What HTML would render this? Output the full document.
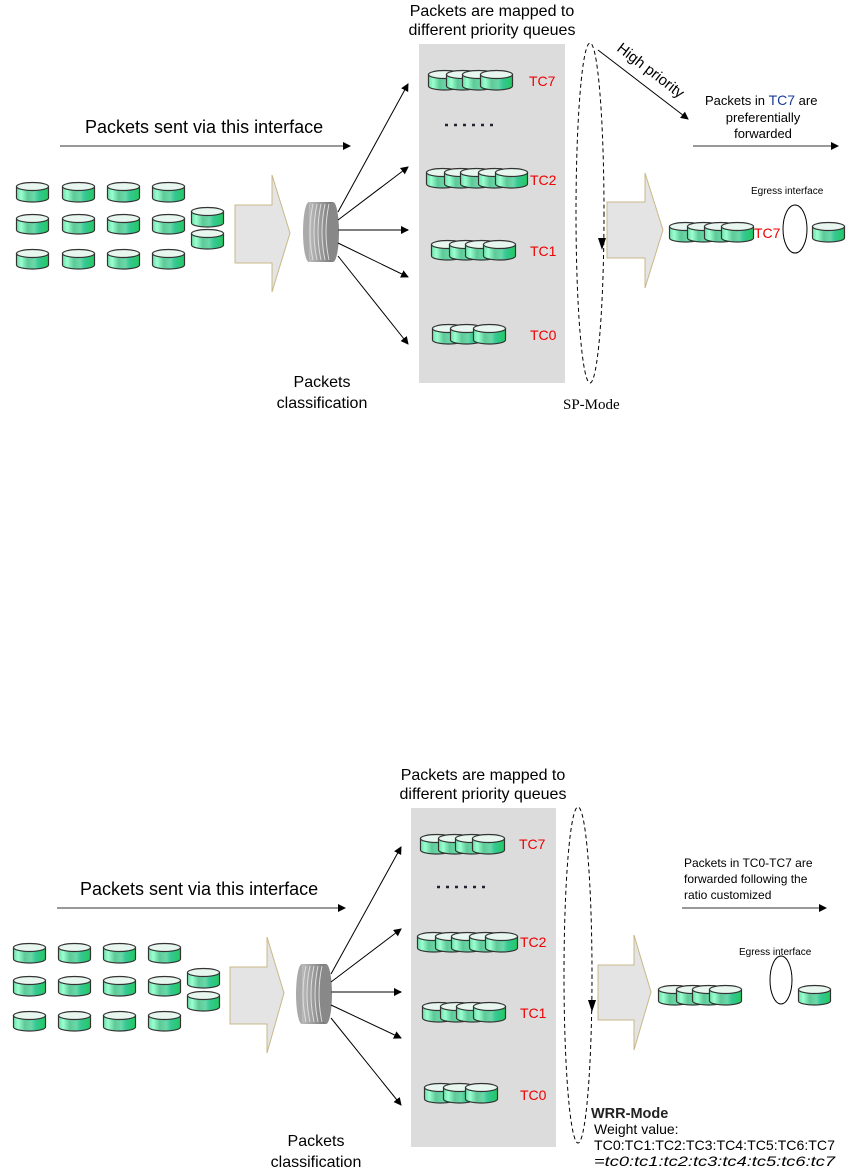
<!DOCTYPE html>
<html><head><meta charset="utf-8"><style>
html,body{margin:0;padding:0;background:#fff;}
svg{display:block;}
text{font-family:"Liberation Sans",sans-serif;}
text.serif{font-family:"Liberation Serif",serif;}
</style></head><body>
<svg width="852" height="1175" viewBox="0 0 852 1175" xmlns="http://www.w3.org/2000/svg">
<defs>
<linearGradient id="cg" x1="0" x2="1" y1="0" y2="0">
<stop offset="0" stop-color="#6fe0a8"/><stop offset="0.15" stop-color="#9affd0"/><stop offset="0.35" stop-color="#5fc998"/><stop offset="0.55" stop-color="#6ad8a8"/><stop offset="0.7" stop-color="#36c893"/><stop offset="1" stop-color="#22c960"/>
</linearGradient>
<linearGradient id="dg" x1="0" x2="1">
<stop offset="0" stop-color="#bbb"/><stop offset="0.5" stop-color="#999"/><stop offset="1" stop-color="#777"/>
</linearGradient>
<g id="cyl">
<path d="M0.5,4.5 L0.5,16 A16,4 0 0 0 32.5,16 L32.5,4.5 Z" fill="url(#cg)" stroke="#333" stroke-width="1.2"/>
<ellipse cx="16.5" cy="4.5" rx="16" ry="4" fill="#e8f6f0" stroke="#333" stroke-width="1.2"/>
</g>
<g id="disk">
<ellipse cx="0" cy="30" rx="6" ry="30" fill="#aaa"/>
<rect x="0" y="0" width="24" height="60" fill="url(#dg)"/>
<ellipse cx="24" cy="30" rx="6" ry="30" fill="#888"/>
<path d="M4,2 Q-2,30 4,58 M8,2 Q2,30 8,58 M12,2 Q6,30 12,58 M16,2 Q10,30 16,58 M20,2 Q14,30 20,58" stroke="#ddd" fill="none" stroke-width="1"/>
</g>
<marker id="ah" markerWidth="8" markerHeight="8" refX="7" refY="4" orient="auto" markerUnits="userSpaceOnUse">
<path d="M0,0 L8,4 L0,8 Z" fill="#000"/>
</marker>
</defs>

<!-- ================= TOP ================= -->
<text x="492" y="16" font-size="16" text-anchor="middle">Packets are mapped to</text>
<text x="492" y="35" font-size="16" text-anchor="middle">different priority queues</text>
<rect x="419" y="44" width="146" height="339" fill="#dcdcdc"/>

<text x="85" y="133" font-size="18">Packets sent via this interface</text>
<line x1="60" y1="146" x2="350" y2="146" stroke="#333" stroke-width="1" marker-end="url(#ah)"/>

<g>
<use href="#cyl" x="16" y="182"/><use href="#cyl" x="62" y="182"/><use href="#cyl" x="107" y="182"/><use href="#cyl" x="152" y="182"/>
<use href="#cyl" x="16" y="214"/><use href="#cyl" x="62" y="214"/><use href="#cyl" x="107" y="214"/><use href="#cyl" x="152" y="214"/>
<use href="#cyl" x="16" y="249"/><use href="#cyl" x="62" y="249"/><use href="#cyl" x="107" y="249"/><use href="#cyl" x="152" y="249"/>
<use href="#cyl" x="191" y="207"/><use href="#cyl" x="191" y="229"/>
</g>
<path d="M235,205 L272,205 L272,175 L290,233 L272,292 L272,263 L235,263 Z" fill="#e4e4e4" stroke="#c8b888" stroke-width="1"/>
<use href="#disk" x="309" y="202"/>
<g stroke="#000" stroke-width="1" fill="none" marker-end="url(#ah)">
<line x1="338" y1="212" x2="408" y2="84"/>
<line x1="338" y1="220" x2="408" y2="167"/>
<line x1="338" y1="230" x2="408" y2="230" stroke="#555" stroke-width="1.5"/>
<line x1="338" y1="243" x2="408" y2="277"/>
<line x1="338" y1="256" x2="408" y2="344"/>
</g>

<use href="#cyl" x="428" y="70"/><use href="#cyl" x="446" y="70"/><use href="#cyl" x="462" y="70"/><use href="#cyl" x="480" y="70"/>
<text x="529" y="86" font-size="14" fill="#e00">TC7</text>
<line x1="445" y1="125" x2="497" y2="125" stroke="#223" stroke-width="2.5" stroke-dasharray="3,6"/>
<use href="#cyl" x="426" y="168"/><use href="#cyl" x="444" y="168"/><use href="#cyl" x="460" y="168"/><use href="#cyl" x="478" y="168"/><use href="#cyl" x="495" y="168"/>
<text x="530" y="185" font-size="14" fill="#e00">TC2</text>
<use href="#cyl" x="431" y="240"/><use href="#cyl" x="449" y="240"/><use href="#cyl" x="465" y="240"/><use href="#cyl" x="483" y="240"/>
<text x="530" y="256" font-size="14" fill="#e00">TC1</text>
<use href="#cyl" x="432" y="324"/><use href="#cyl" x="450" y="324"/><use href="#cyl" x="473" y="324"/>
<text x="530" y="340" font-size="14" fill="#e00">TC0</text>

<text x="322" y="387" font-size="16" text-anchor="middle">Packets</text>
<text x="322" y="408" font-size="16" text-anchor="middle">classification</text>

<ellipse cx="590" cy="213" rx="14" ry="170" fill="none" stroke="#000" stroke-dasharray="4,3"/>
<path d="M598,238 L606,238 L602,250 Z" fill="#000"/>
<line x1="598" y1="50" x2="688" y2="119" stroke="#000" marker-end="url(#ah)"/>
<text x="0" y="0" font-size="15" transform="translate(616,50) rotate(37.5)">High priority</text>
<text x="705" y="105" font-size="13">Packets in <tspan fill="#1a3a9a" font-size="14">TC7</tspan> are</text>
<text x="763" y="122" font-size="13" text-anchor="middle">preferentially</text>
<text x="763" y="138" font-size="13" text-anchor="middle">forwarded</text>
<line x1="693" y1="146" x2="838" y2="146" stroke="#333" marker-end="url(#ah)"/>

<path d="M607,202 L645,202 L645,173 L663,230 L645,288 L645,258 L607,258 Z" fill="#e4e4e4" stroke="#c8b888" stroke-width="1"/>
<text x="751" y="194" font-size="10">Egress interface</text>
<use href="#cyl" x="669" y="222"/><use href="#cyl" x="687" y="222"/><use href="#cyl" x="704" y="222"/><use href="#cyl" x="721" y="222"/>
<text x="754" y="238" font-size="14" fill="#e00">TC7</text>
<ellipse cx="795" cy="229" rx="12" ry="24" fill="#fff" stroke="#000"/>
<use href="#cyl" x="812" y="222"/>
<text x="563" y="409" font-size="15" class="serif">SP-Mode</text>

<!-- ================= BOTTOM ================= -->
<text x="483" y="780" font-size="16" text-anchor="middle">Packets are mapped to</text>
<text x="483" y="799" font-size="16" text-anchor="middle">different priority queues</text>
<rect x="411" y="808" width="145" height="339" fill="#dcdcdc"/>

<text x="80" y="895" font-size="18">Packets sent via this interface</text>
<line x1="57" y1="908" x2="345" y2="908" stroke="#333" marker-end="url(#ah)"/>

<g>
<use href="#cyl" x="13" y="943"/><use href="#cyl" x="58" y="943"/><use href="#cyl" x="103" y="943"/><use href="#cyl" x="148" y="943"/>
<use href="#cyl" x="13" y="976"/><use href="#cyl" x="58" y="976"/><use href="#cyl" x="103" y="976"/><use href="#cyl" x="148" y="976"/>
<use href="#cyl" x="13" y="1011"/><use href="#cyl" x="58" y="1011"/><use href="#cyl" x="103" y="1011"/><use href="#cyl" x="148" y="1011"/>
<use href="#cyl" x="187" y="968"/><use href="#cyl" x="187" y="991"/>
</g>
<path d="M230,967 L267,967 L267,937 L284,993 L267,1053 L267,1024 L230,1024 Z" fill="#e4e4e4" stroke="#c8b888" stroke-width="1"/>
<use href="#disk" x="302" y="964"/>
<g stroke="#000" stroke-width="1" fill="none" marker-end="url(#ah)">
<line x1="331" y1="974" x2="401" y2="847"/>
<line x1="331" y1="982" x2="401" y2="929"/>
<line x1="331" y1="992" x2="401" y2="992" stroke="#555" stroke-width="1.5"/>
<line x1="331" y1="1005" x2="401" y2="1038"/>
<line x1="331" y1="1018" x2="401" y2="1105"/>
</g>

<use href="#cyl" x="420" y="834"/><use href="#cyl" x="438" y="834"/><use href="#cyl" x="455" y="834"/><use href="#cyl" x="472" y="834"/>
<text x="519" y="849" font-size="14" fill="#e00">TC7</text>
<line x1="437" y1="887" x2="489" y2="887" stroke="#223" stroke-width="2.5" stroke-dasharray="3,6"/>
<use href="#cyl" x="417" y="932"/><use href="#cyl" x="435" y="932"/><use href="#cyl" x="451" y="932"/><use href="#cyl" x="469" y="932"/><use href="#cyl" x="485" y="932"/>
<text x="520" y="947" font-size="14" fill="#e00">TC2</text>
<use href="#cyl" x="422" y="1002"/><use href="#cyl" x="440" y="1002"/><use href="#cyl" x="456" y="1002"/><use href="#cyl" x="473" y="1002"/>
<text x="520" y="1018" font-size="14" fill="#e00">TC1</text>
<use href="#cyl" x="424" y="1083"/><use href="#cyl" x="443" y="1083"/><use href="#cyl" x="465" y="1083"/>
<text x="520" y="1100" font-size="14" fill="#e00">TC0</text>

<text x="316" y="1146" font-size="16" text-anchor="middle">Packets</text>
<text x="316" y="1167" font-size="16" text-anchor="middle">classification</text>

<ellipse cx="578" cy="975" rx="14" ry="168" fill="none" stroke="#000" stroke-dasharray="4,3"/>
<path d="M588,1000 L596,1000 L592,1012 Z" fill="#000"/>
<text x="684" y="867" font-size="12">Packets in TC0-TC7 are</text>
<text x="684" y="883" font-size="12">forwarded following the</text>
<text x="684" y="899" font-size="12">ratio customized</text>
<line x1="682" y1="908" x2="826" y2="908" stroke="#333" marker-end="url(#ah)"/>

<path d="M598,965 L634,965 L634,935 L651,992 L634,1050 L634,1020 L598,1020 Z" fill="#e4e4e4" stroke="#c8b888" stroke-width="1"/>
<text x="739" y="955" font-size="10">Egress interface</text>
<use href="#cyl" x="658" y="985"/><use href="#cyl" x="676" y="985"/><use href="#cyl" x="692" y="985"/><use href="#cyl" x="709" y="985"/>
<ellipse cx="781" cy="980" rx="11" ry="24" fill="#fff" stroke="#000"/>
<use href="#cyl" x="798" y="985"/>

<text x="591" y="1118" font-size="14.5" font-weight="bold" fill="#222">WRR-Mode</text>
<text x="594" y="1134" font-size="14">Weight value:</text>
<text x="594" y="1150" font-size="14" textLength="241" lengthAdjust="spacingAndGlyphs">TC0:TC1:TC2:TC3:TC4:TC5:TC6:TC7</text>
<text x="594" y="1166" font-size="14" font-style="italic" textLength="241" lengthAdjust="spacingAndGlyphs">=tc0:tc1:tc2:tc3:tc4:tc5:tc6:tc7</text>
</svg>
</body></html>
